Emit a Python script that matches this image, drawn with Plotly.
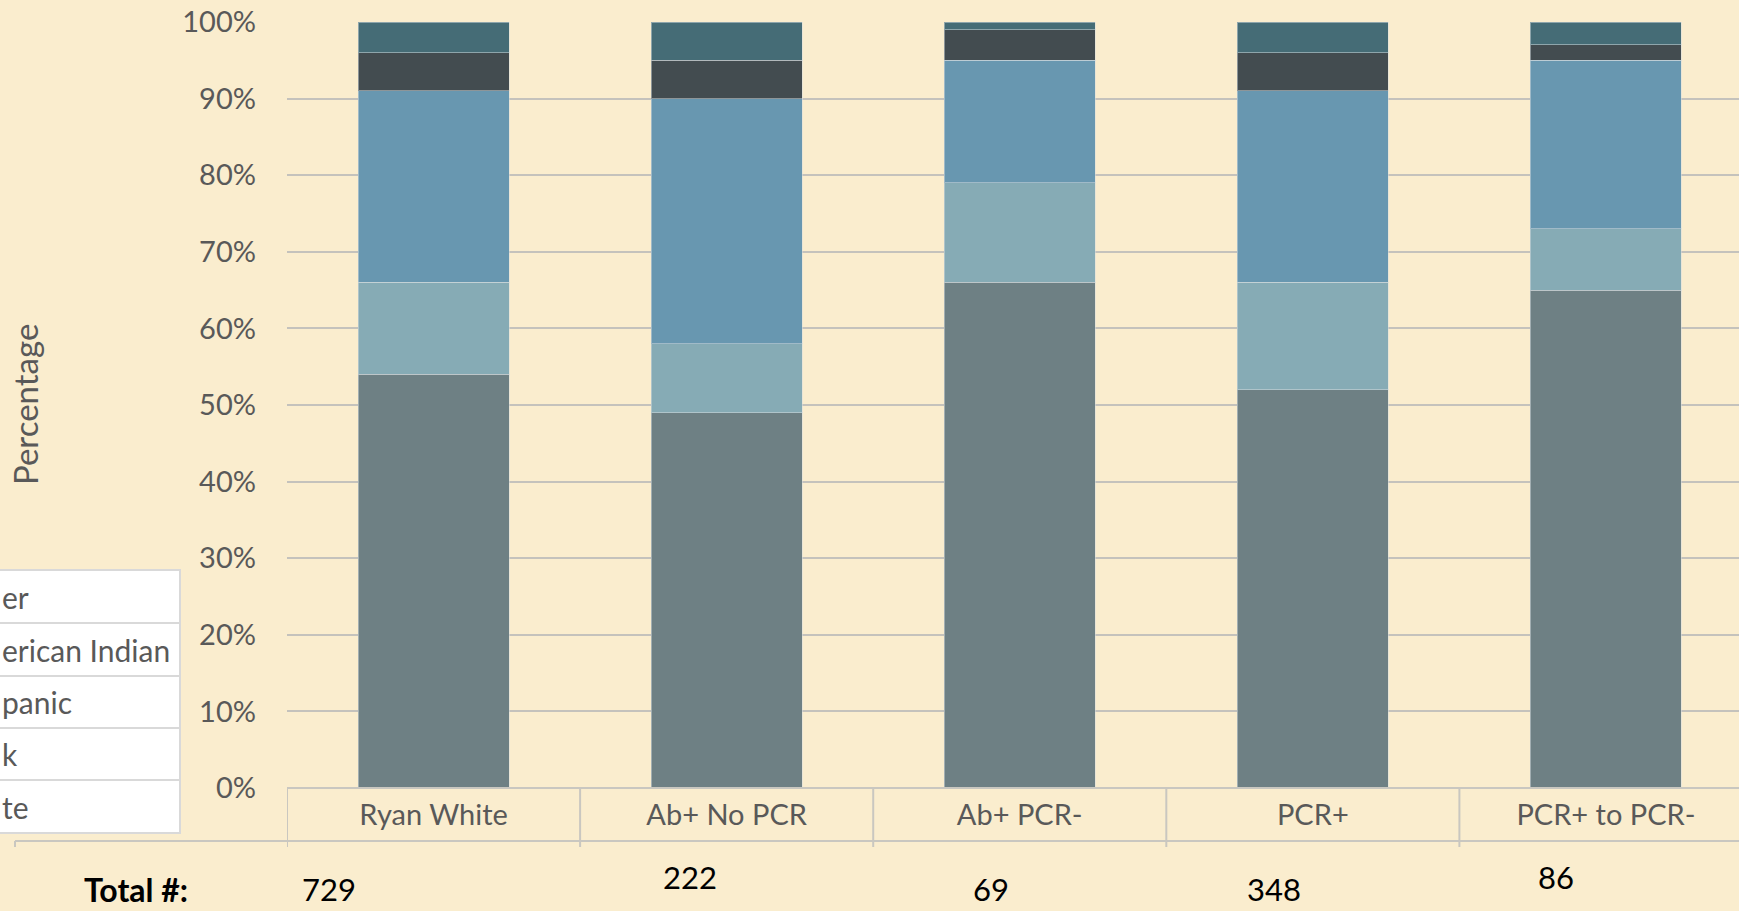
import plotly.graph_objects as go

# ---- data -------------------------------------------------------------
categories = ["Ryan White", "Ab+ No PCR", "Ab+ PCR-", "PCR+", "PCR+ to PCR-"]
white = [54, 49, 66, 52, 65]
black = [12, 9, 13, 14, 8]
hispanic = [25, 32, 16, 25, 22]
american_indian = [5, 5, 4, 5, 2]
other = [4, 5, 1, 4, 3]
totals = [729, 222, 69, 348, 86]
y_ticks = [0, 10, 20, 30, 40, 50, 60, 70, 80, 90, 100]
# legend rows as they show in the narrow left panel (top to bottom)
legend_labels = ["er", "erican Indian", "panic", "k", "te"]

series = [
    ("White", white, "#6E8084"),
    ("Black", black, "#86ABB5"),
    ("Hispanic", hispanic, "#6897B0"),
    ("American Indian", american_indian, "#434C50"),
    ("Other", other, "#456C76"),
]

# ---- layout helpers (pixel -> paper) ------------------------------------
W, H = 1739, 911
L, T, B = 287, 22, 123
PW, PH = W - L, H - T - B
def px(x):
    return (x - L) / PW
def py(y):
    return (H - B - y) / PH

BG = "#FAEDCE"
GRID = "#C4C2BC"
TXT = "#595959"
FONT = "Lato, 'Open Sans', sans-serif"

fig = go.Figure()
for name, vals, col in series:
    fig.add_trace(go.Bar(
        x=categories, y=vals, name=name, marker_color=col,
        marker_line=dict(color="rgba(215,222,224,0.5)", width=1),
        width=0.515,
    ))

fig.update_layout(
    barmode="stack",
    width=W, height=H,
    margin=dict(l=L, r=0, t=T, b=B),
    paper_bgcolor=BG, plot_bgcolor=BG,
    showlegend=False,
    font=dict(family=FONT, color=TXT),
)
fig.update_yaxes(
    range=[0, 100], tickmode="array", tickvals=y_ticks,
    ticktext=[f"{v}%" for v in y_ticks],
    showgrid=True, gridcolor=GRID, gridwidth=2,
    zeroline=False, showline=False,
    tickfont=dict(family=FONT, size=29, color=TXT),
    ticklabelstandoff=30,
)
n = len(categories)
right_edge = n - 0.5 - (L + 293.1 * n - W) / 293.1
fig.update_xaxes(
    range=[-0.5, right_edge], showgrid=False, zeroline=False,
    showline=False, ticks="",
    tickfont=dict(family=FONT, size=29, color=TXT),
    ticklabelstandoff=7,
)

shapes = []
line_style = dict(color="#C9C7C0", width=2)
# data-table row under the axis
shapes.append(dict(type="line", xref="x", yref="paper", x0=-0.5, x1=n,
                   y0=py(788), y1=py(788), line=line_style))
shapes.append(dict(type="line", xref="paper", yref="paper", x0=px(15), x1=1.01,
                   y0=py(841), y1=py(841), line=line_style))
shapes.append(dict(type="line", xref="paper", yref="paper", x0=px(15), x1=px(15),
                   y0=py(841), y1=py(847), line=line_style))
for i in range(n + 1):
    shapes.append(dict(type="line", xref="x", yref="paper", x0=i - 0.5, x1=i - 0.5,
                       y0=py(788), y1=py(847), line=line_style))

# legend table at the left
rows = [570, 623, 676, 728, 780, 833]
for k in range(len(rows) - 1):
    shapes.append(dict(type="rect", xref="paper", yref="paper",
                       x0=px(-10), x1=px(180), y0=py(rows[k + 1]), y1=py(rows[k]),
                       fillcolor="white", line=dict(color="#D9D9D9", width=2)))
fig.update_layout(shapes=shapes)

annotations = []
for k, nm in enumerate(legend_labels):
    yc = (rows[k] + rows[k + 1]) / 2
    annotations.append(dict(text=nm, xref="paper", yref="paper", x=px(0), y=py(yc),
                            xanchor="left", yanchor="middle", showarrow=False,
                            font=dict(family=FONT, size=30, color=TXT)))

# axis title
annotations.append(dict(text="Percentage", xref="paper", yref="paper", x=px(25), y=py(405),
                        textangle=-90, xanchor="center", yanchor="middle", showarrow=False,
                        font=dict(family=FONT, size=33, color=TXT)))

# totals row
annotations.append(dict(text="<b>Total #:</b>", xref="paper", yref="paper", x=px(136), y=py(889),
                        xanchor="center", yanchor="middle", showarrow=False,
                        font=dict(family=FONT, size=32, color="black")))
x_shift = [-0.357, -0.125, -0.098, -0.132, -0.170]
y_row = [889, 877, 889, 889, 877]
for i, tot in enumerate(totals):
    annotations.append(dict(text=str(tot), xref="x", yref="paper", x=i + x_shift[i],
                            y=py(y_row[i]), xanchor="center", yanchor="middle",
                            showarrow=False, font=dict(family=FONT, size=31, color="black")))
fig.update_layout(annotations=annotations)

fig.write_html("out.html")
